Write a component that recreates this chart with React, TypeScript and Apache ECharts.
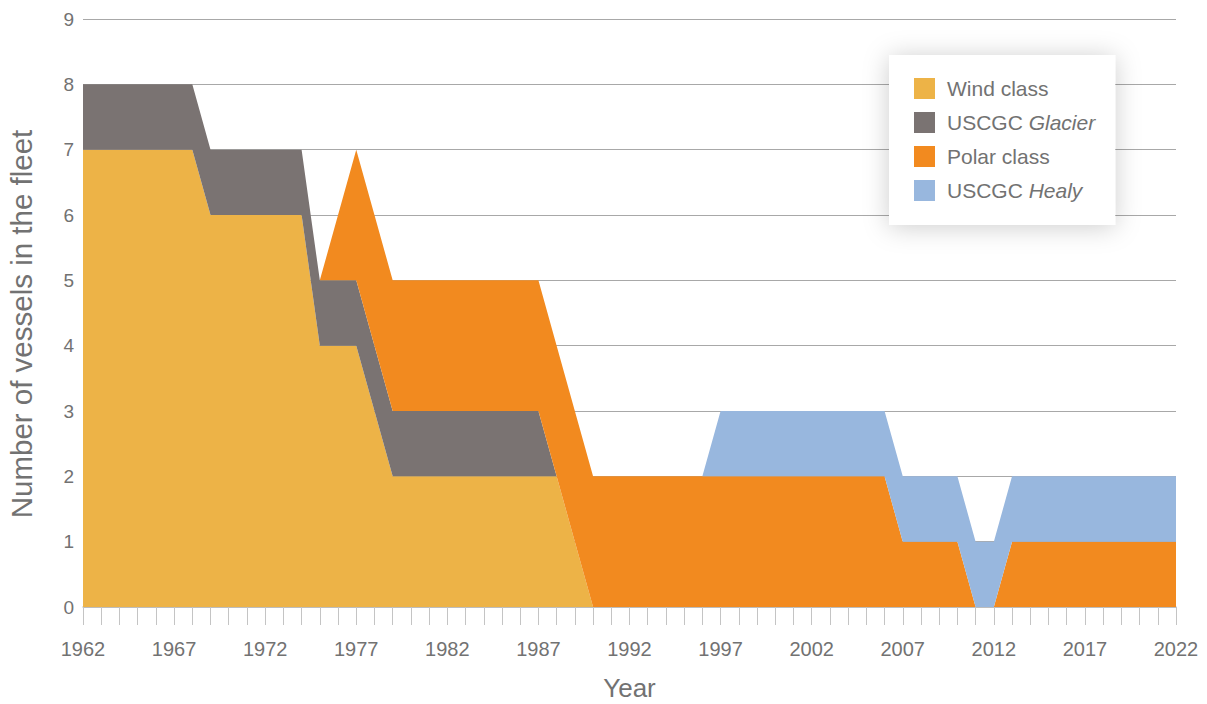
import React, { useEffect, useRef } from "react";
import * as echarts from "echarts";

const years = [
  "1962","1963","1964","1965","1966","1967","1968","1969","1970","1971",
  "1972","1973","1974","1975","1976","1977","1978","1979","1980","1981",
  "1982","1983","1984","1985","1986","1987","1988","1989","1990","1991",
  "1992","1993","1994","1995","1996","1997","1998","1999","2000","2001",
  "2002","2003","2004","2005","2006","2007","2008","2009","2010","2011",
  "2012","2013","2014","2015","2016","2017","2018","2019","2020","2021",
  "2022",
];

// 1962 .. 2022
const windClass = [
  7, 7, 7, 7, 7, 7, 7, 6, 6, 6,
  6, 6, 6, 4, 4, 4, 3, 2, 2, 2,
  2, 2, 2, 2, 2, 2, 2, 1, 0, 0,
  0, 0, 0, 0, 0, 0, 0, 0, 0, 0,
  0, 0, 0, 0, 0, 0, 0, 0, 0, 0,
  0, 0, 0, 0, 0, 0, 0, 0, 0, 0,
  0,
];
const glacier = [
  1, 1, 1, 1, 1, 1, 1, 1, 1, 1,
  1, 1, 1, 1, 1, 1, 1, 1, 1, 1,
  1, 1, 1, 1, 1, 1, 0, 0, 0, 0,
  0, 0, 0, 0, 0, 0, 0, 0, 0, 0,
  0, 0, 0, 0, 0, 0, 0, 0, 0, 0,
  0, 0, 0, 0, 0, 0, 0, 0, 0, 0,
  0,
];
const polarClass = [
  0, 0, 0, 0, 0, 0, 0, 0, 0, 0,
  0, 0, 0, 0, 1, 2, 2, 2, 2, 2,
  2, 2, 2, 2, 2, 2, 2, 2, 2, 2,
  2, 2, 2, 2, 2, 2, 2, 2, 2, 2,
  2, 2, 2, 2, 2, 1, 1, 1, 1, 0,
  0, 1, 1, 1, 1, 1, 1, 1, 1, 1,
  1,
];
const healy = [
  0, 0, 0, 0, 0, 0, 0, 0, 0, 0,
  0, 0, 0, 0, 0, 0, 0, 0, 0, 0,
  0, 0, 0, 0, 0, 0, 0, 0, 0, 0,
  0, 0, 0, 0, 0, 1, 1, 1, 1, 1,
  1, 1, 1, 1, 1, 1, 1, 1, 1, 1,
  1, 1, 1, 1, 1, 1, 1, 1, 1, 1,
  1,
];

const seriesNames = ["Wind class", "USCGC Glacier", "Polar class", "USCGC Healy"];
const seriesColors = ["#EDB347", "#7A7372", "#F28A1F", "#98B7DE"];
const seriesData = [windClass, glacier, polarClass, healy];

const FONT = "'Liberation Sans', Arial, Helvetica, sans-serif";
const TEXT = "#727272";

export default function App() {
  const ref = useRef<HTMLDivElement>(null);
  useEffect(() => {
    document.body.style.margin = "0";
    const chart = echarts.init(ref.current!, null, { renderer: "svg" });
    chart.setOption({
      animation: false,
      textStyle: { fontFamily: FONT },
      grid: {
        left: 83,
        right: 31,
        top: 19,
        bottom: 97,
        containLabel: false,
        outerBoundsMode: "none",
      },
      legend: {
        orient: "vertical",
        left: 889,
        top: 55,
        padding: [23, 20, 24, 25],
        backgroundColor: "#ffffff",
        shadowBlur: 26,
        shadowColor: "rgba(0,0,0,0.2)",
        shadowOffsetY: 2,
        itemWidth: 21,
        itemHeight: 21,
        itemGap: 13,
        icon: "rect",
        data: seriesNames,
        formatter: (name: string) => {
          if (name.startsWith("USCGC ")) {
            return "{n|USCGC }{i|" + name.slice(6) + "}";
          }
          return "{n|" + name + "}";
        },
        textStyle: {
          color: TEXT,
          fontSize: 21,
          fontFamily: FONT,
          padding: [0, 0, 0, 7],
          rich: {
            n: { color: TEXT, fontSize: 21, fontFamily: FONT },
            i: { color: TEXT, fontSize: 21, fontFamily: FONT, fontStyle: "italic" },
          },
        },
      },
      xAxis: {
        type: "category",
        data: years,
        boundaryGap: false,
        name: "Year",
        nameLocation: "middle",
        nameGap: 70,
        nameTextStyle: { color: TEXT, fontSize: 26, lineHeight: 22, fontFamily: FONT },
        axisLine: { show: true, lineStyle: { color: "#c4c4c4", width: 1.5 } },
        axisTick: { show: true, interval: 0, length: 18, lineStyle: { color: "#c4c4c4", width: 1 } },
        axisLabel: { interval: 4, margin: 32, color: TEXT, fontSize: 20, fontFamily: FONT },
        splitLine: { show: false },
      },
      yAxis: {
        type: "value",
        min: 0,
        max: 9,
        interval: 1,
        name: "Number of vessels in the fleet",
        nameLocation: "middle",
        nameGap: 47,
        nameTextStyle: { color: TEXT, fontSize: 29.5, fontFamily: FONT, padding: [0, 22, 0, 0] },
        axisLine: { show: false },
        axisTick: { show: false },
        axisLabel: { margin: 9, color: TEXT, fontSize: 19, fontFamily: FONT },
        splitLine: { show: true, lineStyle: { color: "#a8a8a8", width: 1 } },
      },
      series: seriesNames.map((name, i) => ({
        name,
        type: "line",
        stack: "fleet",
        data: seriesData[i],
        symbol: "none",
        showSymbol: false,
        color: seriesColors[i],
        lineStyle: { width: 0, color: seriesColors[i] },
        areaStyle: { color: seriesColors[i], opacity: 1 },
        itemStyle: { color: seriesColors[i] },
      })),
    });
    return () => chart.dispose();
  }, []);
  return <div ref={ref} style={{ width: 1207, height: 704 }} />;
}
